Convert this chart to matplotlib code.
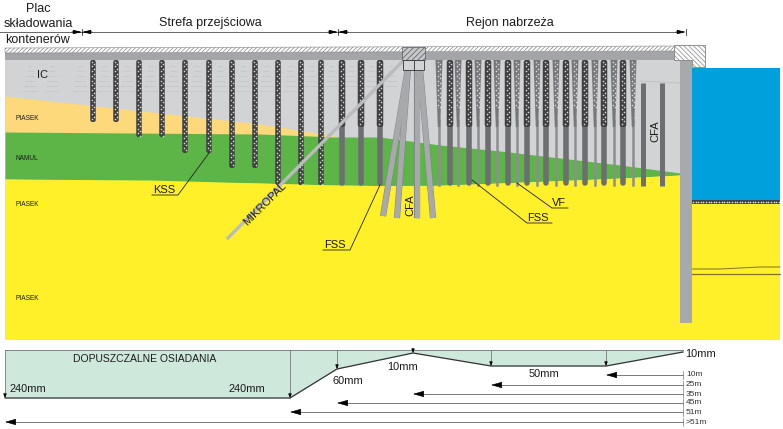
import numpy as np
import matplotlib
matplotlib.use("Agg")
import matplotlib.pyplot as plt
from matplotlib.patches import Polygon, Rectangle, FancyBboxPatch

plt.rcParams['font.family'] = ['Liberation Sans', 'DejaVu Sans']

# soil boundaries (pixel positions of the drawing)
ic_x = [5, 90, 140, 200, 260, 300, 335]
ic_y = [96, 96, 105, 117, 124, 131, 136]
sand_x = [5, 260, 335, 380, 440, 500, 560, 620, 680]
green_top = [132, 134, 137, 137, 145, 151, 158, 165, 173]
green_x = [5, 150, 330, 420, 500, 600, 680]
green_bot = [179, 180, 185, 186, 183, 179, 175]

# piles
kss_x = [93, 116, 139, 162, 185, 209, 232, 255, 278, 301, 321]
kss_end = [122, 122, 137, 137, 153, 153, 168, 168, 185, 185, 185]
fss_x = [342, 361, 380, 450, 469, 488, 508, 527, 546, 566, 585, 604, 623]
vf_x = [439, 458, 478, 497, 517, 537, 556, 575, 595, 614, 633]
cfa_x = [643, 662]
lens_x = [30, 52, 80, 104, 127, 150, 173, 197, 220, 243, 266, 290, 311, 331, 351, 371, 391]

# inclined piles under the cap: top x, bottom x, bottom y
raked_top = [408, 408, 417, 420]
raked_bot = [383, 397, 417, 433]
raked_end = [216, 218, 218, 218]

# settlement diagram
prof_x = [5, 290, 337, 413, 491, 606, 683]
prof_y = [398, 398, 369, 353, 366, 366, 352]
dist_labels = ['10m', '25m', '35m', '45m', '51m', '>51m']
dist_tip = [606, 491, 413, 337, 290, 5]
dist_y = [375, 385, 394, 403, 412, 422]

YELLOW = '#fff02a'
GREEN = '#5cb546'
SAND = '#fdd97c'
GREY = '#d1d3d4'
STEEL = '#a7a9ac'
PILE = '#6d6e71'
WATER = '#00a0dc'
MINT = '#cfe8dc'

plt.rcParams['hatch.linewidth'] = 0.5

fig = plt.figure(figsize=(7.83, 4.29), dpi=100)
ax = fig.add_axes([0, 0, 1, 1])
ax.set_xlim(0, 783)
ax.set_ylim(429, 0)
ax.axis('off')

# soil layers
ax.add_patch(Rectangle((5, 60), 687, 280, fc=YELLOW, ec='none', zorder=1))
ax.add_patch(Rectangle((692, 200), 88, 140, fc=YELLOW, ec='none', zorder=1))
ax.fill_between([5, 680], 60, 180, color=GREY, lw=0, zorder=1.1)
ax.fill_between(sand_x, np.interp(sand_x, ic_x, ic_y), 140, where=np.array(sand_x) <= 335,
                color=SAND, lw=0, zorder=1.2)
ax.fill_between(sand_x, green_top, np.interp(sand_x, green_x, green_bot), color=GREEN, lw=0, zorder=1.3)
ax.fill_between(green_x, green_bot, 200, color=YELLOW, lw=0, zorder=1.4)
ax.plot([640, 680], [81, 83], color='#bcbec0', lw=0.6, zorder=1.5)

# lens marks in the fill
for x in lens_x:
    for y, w in zip(range(66, 96, 5), [2, 3, 4, 5, 6, 7]):
        if x > 300 and y > 86:
            continue
        ax.plot([x - w, x + w], [y, y], color='#bdbfc1', lw=0.4, zorder=1.6)


def dots(x, y0, y1, off, color):
    ys = np.arange(y0 + 1.5, y1 - 1, 2.4)
    xs = x + off * np.where(np.arange(len(ys)) % 2 == 0, -1, 1)
    ax.scatter(xs, ys, s=1.3, color=color, lw=0, zorder=3.2)


def stone(x, y0, y1, w=5.5):
    ax.add_patch(FancyBboxPatch((x - w / 2, y0), w, y1 - y0, boxstyle='round,pad=0,rounding_size=2.2',
                                fc='#414042', ec='none', zorder=3))
    dots(x, y0, y1, 1.2, '#d8d8d8')


for x, end in zip(kss_x, kss_end):
    stone(x, 60, end)

for x in fss_x:
    ax.plot([x, x], [127, 183], color=PILE, lw=4, solid_capstyle='round', zorder=3)
    stone(x, 60, 127, w=6.5)

for x in vf_x:
    ax.plot([x, x], [120, 185], color='#8d8e90', lw=1.8, zorder=3)
    ax.add_patch(Polygon([(x - 3.5, 60), (x + 3.5, 60), (x + 1.2, 127), (x - 1.2, 127)],
                         fc='#77787b', ec='none', zorder=3))
    dots(x, 60, 110, 1, '#dcdcdc')

for x in cfa_x:
    ax.plot([x, x], [83, 186], color=PILE, lw=3.6, solid_capstyle='butt', zorder=3)

# micropile and raked piles
ax.plot([228, 402], [238, 62], color='#b9bbbd', lw=2.4, zorder=3.5)
for x0, x1, y1 in zip(raked_top, raked_bot, raked_end):
    ax.plot([x0, x1], [68, y1], color='#808285', lw=4.4, solid_capstyle='butt', zorder=4)
    ax.plot([x0, x1], [68, y1], color=STEEL, lw=3.8, solid_capstyle='butt', zorder=4.1)

# deck, cap, quay wall
ax.add_patch(Polygon([(5, 53), (680, 51), (680, 60), (5, 60)], fc='#a3a5a8', ec='none', zorder=5))
ax.add_patch(Polygon([(5, 48), (680, 46), (680, 51), (5, 53)], fc='white', ec='#808285', lw=0.4,
                     hatch='////////', zorder=5))
ax.add_patch(Rectangle((402, 47), 23, 13, fc='#c6c7c9', ec='#58595b', lw=0.5, hatch='//////', zorder=6))
ax.add_patch(Rectangle((403, 60), 21, 10, fc=GREY, ec='#333333', lw=0.6, zorder=6))
ax.plot([413.5, 413.5], [60, 70], color='#333333', lw=0.6, zorder=6)
ax.add_patch(Rectangle((680, 60), 12, 263, fc=STEEL, ec='none', zorder=6))
ax.add_patch(Rectangle((692, 68), 88, 132, fc=WATER, ec='none', zorder=2))
ax.add_patch(Rectangle((692, 200), 88, 4, fc='#444444', ec='none', zorder=2))
ax.scatter(np.arange(693, 780, 2.6), np.full(34, 202), s=1.3, color='#e0e0e0', lw=0, zorder=2.1)
ax.add_patch(Polygon([(674, 45), (705, 45), (705, 67), (692, 67), (692, 60), (674, 60)], fc='white',
                     ec='#808285', lw=0.6, hatch='\\\\\\\\\\\\\\', zorder=7))
ax.plot([692, 720, 760, 780], [269, 269, 267, 267], color='#7d7320', lw=0.7, zorder=3)
ax.plot([692, 780], [273.5, 273.5], color='#7d7320', lw=0.9, zorder=3)

# header line and zone arrows
ax.plot([0, 680], [32, 32], color='#666666', lw=0.7, zorder=2)
for x, d in [(82, 1), (82, -1), (338, 1), (338, -1), (686, 1)]:
    ax.annotate('', xy=(x, 32), xytext=(x - 10 * d, 32), zorder=8,
                arrowprops=dict(arrowstyle='-|>,head_length=0.5,head_width=0.12', color='black', lw=0.6,
                                shrinkA=0, shrinkB=0))
for x in [82, 338, 686]:
    ax.plot([x, x], [29, 35], color='black', lw=0.5)

# callouts
for xs, ys in [([209, 178, 152], [153, 195, 195]), ([380, 350, 323], [185, 250, 250]),
               ([472, 527, 552], [180, 223, 223]), ([517, 552, 568], [183, 208, 208])]:
    ax.plot(xs, ys, color='#222222', lw=0.6, zorder=8)

txt = dict(ha='center', va='center', color='#1a1a1a', zorder=9)
ax.text(38, 9, 'Plac', fontsize=9, **txt)
ax.text(38, 24, 'składowania', fontsize=9, **txt)
ax.text(38, 40, 'kontenerów', fontsize=9, **txt)
ax.text(210, 23, 'Strefa przejściowa', fontsize=9, **txt)
ax.text(510, 23, 'Rejon nabrzeża', fontsize=9, **txt)
ax.text(43, 75, 'IC', fontsize=8, **txt)
for y, s in [(119, 'PIASEK'), (159, 'NAMUL'), (204, 'PIASEK'), (298, 'PIASEK')]:
    ax.text(27, y, s, fontsize=4.7, **txt)
ax.text(164, 190, 'KSS', fontsize=8, **txt)
ax.text(265, 204, 'MIKROPAL', fontsize=8, rotation=45, **txt)
ax.text(335, 245, 'FSS', fontsize=8, **txt)
ax.text(410, 205, 'CFA', fontsize=8, rotation=90, **txt)
ax.text(538, 218, 'FSS', fontsize=8, **txt)
ax.text(559, 203, 'VF', fontsize=8, **txt)
ax.text(655, 131, 'CFA', fontsize=8, rotation=90, **txt)

# settlement diagram
ax.fill_between(prof_x, 350, prof_y, color=MINT, lw=0)
ax.plot([5, 683], [350, 350], color='#808285', lw=0.7)
ax.plot(prof_x, prof_y, color='#333333', lw=0.9)
for x, y in zip(prof_x[:-1], prof_y[:-1]):
    ax.plot([x, x], [350, y], color='#77787b', lw=0.6)
    ax.annotate('', xy=(x, y), xytext=(x, y - 5),
                arrowprops=dict(arrowstyle='-|>,head_length=0.25,head_width=0.1', color='black', lw=0.4,
                                shrinkA=0, shrinkB=0))

for s, tip, y in zip(dist_labels, dist_tip, dist_y):
    ax.plot([tip + 8, 683], [y, y], color='#77787b', lw=0.7)
    ax.annotate('', xy=(tip, y), xytext=(tip + 10, y),
                arrowprops=dict(arrowstyle='-|>,head_length=0.7,head_width=0.2', color='black', lw=0.4,
                                shrinkA=0, shrinkB=0))
    ax.plot([683, 683], [y - 4, y + 4], color='#77787b', lw=0.5)
    ax.text(686, y, s, fontsize=6, ha='left', va='center', color='#333333')

ax.text(145, 359, 'DOPUSZCZALNE OSIADANIA', fontsize=7.5, **txt)
for x, y, s in [(28, 389, '240mm'), (247, 389, '240mm'), (348, 381, '60mm'), (403, 367, '10mm'),
                (544, 374, '50mm'), (701, 354, '10mm')]:
    ax.text(x, y, s, fontsize=7.9, **txt)

fig.savefig('out.png', dpi=100)
